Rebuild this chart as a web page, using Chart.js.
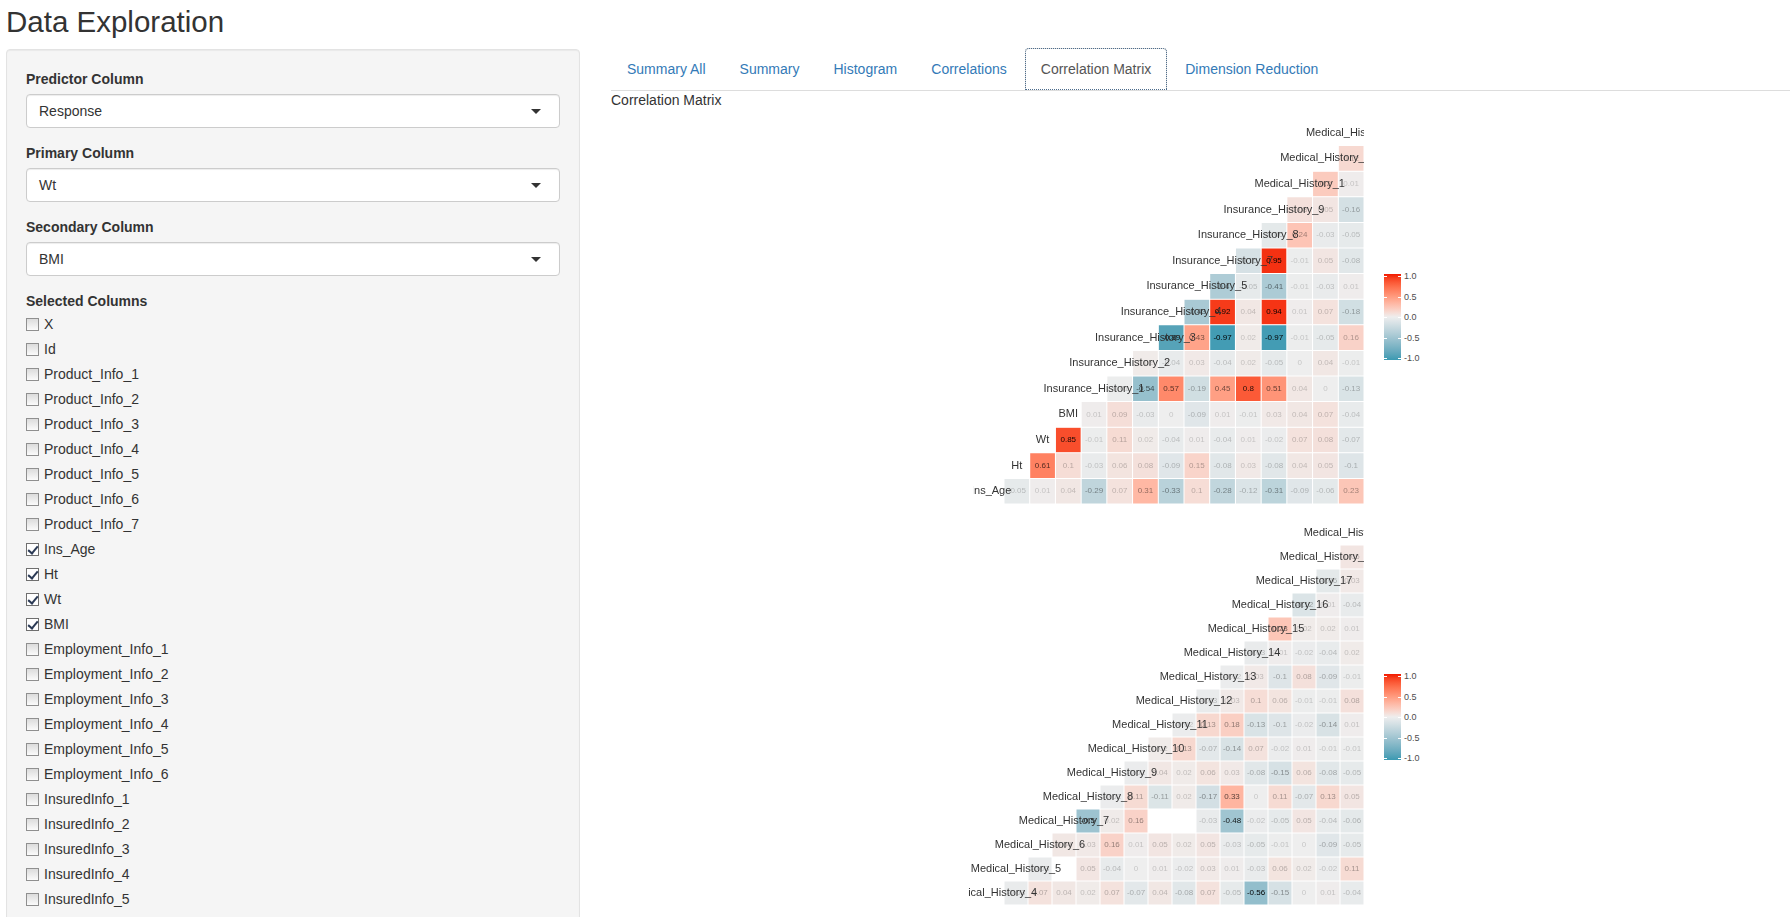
<!DOCTYPE html>
<html>
<head>
<meta charset="utf-8">
<title>Data Exploration</title>
<script src="https://cdn.jsdelivr.net/npm/chart.js@4.4.1/dist/chart.umd.min.js"></script>
<style>
  * { box-sizing: border-box; }
  html, body { margin: 0; padding: 0; }
  body { width: 1790px; height: 917px; overflow: hidden; position: relative; background: #fff; color: #333;
         font-family: "Liberation Sans", Arial, Helvetica, sans-serif; font-size: 14px; line-height: 20px; }
  h2 { position: absolute; left: 6px; top: 5px; margin: 0; font-size: 29.5px; line-height: 33px; font-weight: 500; }
  .well { position: absolute; left: 6px; top: 49px; width: 574px; height: 1000px; padding: 19px;
          background: #f5f5f5; border: 1px solid #e3e3e3; border-radius: 4px; box-shadow: inset 0 1px 1px rgba(0,0,0,.05); }
  .form-group { margin-bottom: 15px; }
  .control-label { display: block; font-weight: bold; margin-bottom: 5px; }
  .sel { position: relative; height: 34px; padding: 6px 12px; background: #fff; border: 1px solid #ccc; border-radius: 4px;
         box-shadow: inset 0 1px 1px rgba(0,0,0,.075); }
  .sel::after { content: ""; position: absolute; right: 18px; top: 14px; border-style: solid; border-width: 5px 5px 0 5px;
                border-color: #333 transparent transparent transparent; }
  .opts { margin-top: -4px; }
  .cb { height: 25px; line-height: 25px; padding-left: 18px; position: relative; }
  .cb .box { position: absolute; left: 0; top: 6px; width: 13px; height: 13px; border: 1px solid #8f8f8f;
             background: linear-gradient(#dcdcdc, #fbfbfb); }
  .cb .box.on { background: #fff; border-color: #6f6f6f; }
  .cb .box.on::after { content: ""; position: absolute; left: 3px; top: 0; width: 4px; height: 8px;
                       border: solid #2b3a55; border-width: 0 2px 2px 0; transform: rotate(40deg); }
  .tabs { position: absolute; left: 611px; top: 48px; right: 0; height: 43px; border-bottom: 1px solid #ddd; }
  .tabs a { float: left; margin-right: 2px; padding: 10px 15px; line-height: 20px; color: #337ab7; text-decoration: none;
            border: 1px solid transparent; border-radius: 4px 4px 0 0; }
  .tabs a.active { color: #555; background: #fff; border-color: #ddd #ddd transparent; outline: 1px dotted #4d6d8d; outline-offset: -1px; }
  .caption { position: absolute; left: 611px; top: 90px; }
  .mat { position: absolute; }
  #topWrap { left: 973px; top: 120px; width: 391px; height: 384px; }
  #botWrap { left: 968px; top: 521px; width: 396px; height: 384px; }
  .legend { position: absolute; left: 1384px; width: 17px; height: 86px; }
  .legend .bar { position: absolute; left: 0; top: 0; width: 17px; height: 86px; }
  .legend .tk { position: absolute; width: 3px; height: 1px; background: #fff; }
  .legend .lab { position: absolute; left: 20px; font-size: 9px; line-height: 10px; color: #4d4d4d; white-space: nowrap; }
</style>
</head>
<body>
<h2>Data Exploration</h2>

<div class="well">
  <div class="form-group">
    <label class="control-label">Predictor Column</label>
    <div class="sel">Response</div>
  </div>
  <div class="form-group">
    <label class="control-label">Primary Column</label>
    <div class="sel">Wt</div>
  </div>
  <div class="form-group">
    <label class="control-label">Secondary Column</label>
    <div class="sel">BMI</div>
  </div>
  <div class="form-group">
    <label class="control-label">Selected Columns</label>
    <div class="opts" id="opts"></div>
  </div>
</div>

<div class="tabs">
  <a>Summary All</a>
  <a>Summary</a>
  <a>Histogram</a>
  <a>Correlations</a>
  <a class="active">Correlation Matrix</a>
  <a>Dimension Reduction</a>
</div>
<div class="caption">Correlation Matrix</div>

<div class="mat" id="topWrap"><canvas id="topChart"></canvas></div>
<div class="legend" id="topLegend" style="top:274px"><div class="bar"></div></div>

<div class="mat" id="botWrap"><canvas id="botChart"></canvas></div>
<div class="legend" id="botLegend" style="top:674px"><div class="bar"></div></div>

<script>
// sidebar column list
const columnNames = ['X', 'Id', 'Product_Info_1', 'Product_Info_2', 'Product_Info_3', 'Product_Info_4', 'Product_Info_5',
  'Product_Info_6', 'Product_Info_7', 'Ins_Age', 'Ht', 'Wt', 'BMI', 'Employment_Info_1', 'Employment_Info_2',
  'Employment_Info_3', 'Employment_Info_4', 'Employment_Info_5', 'Employment_Info_6', 'InsuredInfo_1', 'InsuredInfo_2',
  'InsuredInfo_3', 'InsuredInfo_4', 'InsuredInfo_5'];
const checkedColumns = ['Ins_Age', 'Ht', 'Wt', 'BMI'];

// first matrix: variables top to bottom, each row = correlations left to right
const topVars = ['Medical_History_3', 'Medical_History_2', 'Medical_History_1', 'Insurance_History_9',
  'Insurance_History_8', 'Insurance_History_7', 'Insurance_History_5', 'Insurance_History_4', 'Insurance_History_3',
  'Insurance_History_2', 'Insurance_History_1', 'BMI', 'Wt', 'Ht', 'Ins_Age'];
const topRows = [
  [],
  [0.12],
  [0.2, 0.01],
  [0.08, 0.05, -0.16],
  [-0.06, 0.24, -0.03, -0.05],
  [-0.15, 0.95, -0.01, 0.05, -0.08],
  [-0.4, -0.05, -0.41, -0.01, -0.03, 0.01],
  [-0.43, 0.92, 0.04, 0.94, 0.01, 0.07, -0.18],
  [-0.89, 0.43, -0.97, 0.02, -0.97, -0.01, -0.05, 0.16],
  [0.02, -0.04, 0.03, -0.04, 0.02, -0.05, 0, 0.04, -0.01],
  [-0.01, -0.54, 0.57, -0.19, 0.45, 0.8, 0.51, 0.04, 0, -0.13],
  [0.01, 0.09, -0.03, 0, -0.09, 0.01, -0.01, 0.03, 0.04, 0.07, -0.04],
  [0.85, -0.01, 0.11, 0.02, -0.04, 0.01, -0.04, 0.01, -0.02, 0.07, 0.08, -0.07],
  [0.61, 0.1, -0.03, 0.06, 0.08, -0.09, 0.15, -0.08, 0.03, -0.08, 0.04, 0.05, -0.1],
  [-0.05, 0.01, 0.04, -0.29, 0.07, 0.31, -0.33, 0.1, -0.28, -0.12, -0.31, -0.09, -0.06, 0.23]
];

// second matrix
const botVars = ['Medical_History_19', 'Medical_History_18', 'Medical_History_17', 'Medical_History_16',
  'Medical_History_15', 'Medical_History_14', 'Medical_History_13', 'Medical_History_12', 'Medical_History_11',
  'Medical_History_10', 'Medical_History_9', 'Medical_History_8', 'Medical_History_7', 'Medical_History_6',
  'Medical_History_5', 'Medical_History_4'];
const botRows = [
  [],
  [0.05],
  [-0.06, 0.03],
  [-0.12, 0.01, -0.04],
  [0.23, 0.02, 0.02, 0.01],
  [-0.03, 0.01, -0.02, -0.04, 0.02],
  [-0.02, 0.03, -0.1, 0.08, -0.09, -0.01],
  [-0.03, 0.03, 0.1, 0.06, -0.01, -0.01, 0.08],
  [-0.02, 0.13, 0.18, -0.13, -0.1, -0.02, -0.14, 0.01],
  [0.02, 0.13, -0.07, -0.14, 0.07, -0.02, 0.01, -0.01, -0.01],
  [-0.02, 0.04, 0.02, 0.06, 0.03, -0.08, -0.15, 0.06, -0.08, -0.05],
  [-0.02, 0.11, -0.11, 0.02, -0.17, 0.33, 0, 0.11, -0.07, 0.13, 0.05],
  [-0.5, 0.02, 0.16, null, null, -0.03, -0.48, -0.02, -0.05, 0.05, -0.04, -0.06],
  [0.04, 0.03, 0.16, 0.01, 0.05, 0.02, 0.05, -0.03, -0.05, -0.01, 0, -0.09, -0.05],
  [-0.03, null, 0.05, -0.04, 0, 0.01, -0.02, 0.03, 0.01, -0.03, 0.06, 0.02, -0.02, 0.11],
  [-0.03, 0.07, 0.04, 0.02, 0.07, -0.07, 0.04, -0.08, 0.07, -0.05, -0.56, -0.15, 0, 0.01, -0.04]
];

const legendTicks = [1, 0.5, 0, -0.5, -1];

// sidebar checkboxes
const opts = document.getElementById('opts');
columnNames.forEach(function (name) {
  const d = document.createElement('div');
  d.className = 'cb';
  d.innerHTML = '<span class="box' + (checkedColumns.includes(name) ? ' on' : '') + '"></span>' + name;
  opts.appendChild(d);
});

// colour scale (low / mid / high blended in Lab like ggplot)
const LOW = '#3B9AB2', MID = '#EEEEEE', HIGH = '#F21A00';
function toLin(c) { c /= 255; return c <= 0.04045 ? c / 12.92 : Math.pow((c + 0.055) / 1.055, 2.4); }
function fromLin(c) {
  c = c <= 0.0031308 ? 12.92 * c : 1.055 * Math.pow(c, 1 / 2.4) - 0.055;
  return Math.round(Math.max(0, Math.min(1, c)) * 255);
}
function hexToLab(hex) {
  const r = toLin(parseInt(hex.slice(1, 3), 16)), g = toLin(parseInt(hex.slice(3, 5), 16)), b = toLin(parseInt(hex.slice(5, 7), 16));
  const X = (0.4124 * r + 0.3576 * g + 0.1805 * b) / 0.95047;
  const Y = 0.2126 * r + 0.7152 * g + 0.0722 * b;
  const Z = (0.0193 * r + 0.1192 * g + 0.9505 * b) / 1.08883;
  const f = t => t > 0.008856 ? Math.cbrt(t) : 7.787 * t + 16 / 116;
  const fx = f(X), fy = f(Y), fz = f(Z);
  return [116 * fy - 16, 500 * (fx - fy), 200 * (fy - fz)];
}
function labToRgb(lab) {
  const fy = (lab[0] + 16) / 116, fx = fy + lab[1] / 500, fz = fy - lab[2] / 200;
  const fi = t => t * t * t > 0.008856 ? t * t * t : (t - 16 / 116) / 7.787;
  const X = fi(fx) * 0.95047, Y = fi(fy), Z = fi(fz) * 1.08883;
  const r = 3.2406 * X - 1.5372 * Y - 0.4986 * Z;
  const g = -0.9689 * X + 1.8758 * Y + 0.0415 * Z;
  const b = 0.0557 * X - 0.2040 * Y + 1.0570 * Z;
  return 'rgb(' + fromLin(r) + ',' + fromLin(g) + ',' + fromLin(b) + ')';
}
const labLow = hexToLab(LOW), labMid = hexToLab(MID), labHigh = hexToLab(HIGH);
function corrColor(v) {
  const t = Math.min(1, Math.abs(v));
  const end = v < 0 ? labLow : labHigh;
  return labToRgb([0, 1, 2].map(i => labMid[i] + (end[i] - labMid[i]) * t));
}

// text on top of the tiles: coefficients, then the variable names on the diagonal
function textPlugin(id, vars, rows) {
  const ncol = vars.length - 1;
  let maxAbs = 0;
  rows.forEach(r => r.forEach(v => { if (v !== null) maxAbs = Math.max(maxAbs, Math.abs(v)); }));
  return {
    id: id,
    afterDatasetsDraw(chart) {
      const ctx = chart.ctx, x = chart.scales.x, y = chart.scales.y;
      ctx.save();
      ctx.textAlign = 'center';
      ctx.textBaseline = 'middle';
      ctx.font = '8px "Liberation Sans", Arial, sans-serif';
      rows.forEach(function (vals, r) {
        vals.forEach(function (v, k) {
          if (v === null) return;
          const c = ncol - r + k;
          ctx.fillStyle = 'rgba(0,0,0,' + (0.18 + 0.82 * Math.abs(v) / maxAbs).toFixed(3) + ')';
          ctx.fillText(String(v), x.getPixelForValue(c), y.getPixelForValue(r + 0.5));
        });
      });
      ctx.font = '11px "Liberation Sans", Arial, sans-serif';
      ctx.fillStyle = '#333';
      vars.forEach(function (name, r) {
        ctx.fillText(name, x.getPixelForValue(ncol - 1 - r), y.getPixelForValue(r + 0.5));
      });
      ctx.restore();
    }
  };
}

function makeMatrix(canvasId, vars, rows, padLeft) {
  const ncol = vars.length - 1;
  const labels = [];
  for (let c = 0; c < ncol; c++) labels.push(vars[ncol - 1 - c]);
  const datasets = rows.map(function (vals, r) {
    const start = ncol - r;
    const data = [], colors = [];
    for (let c = 0; c < ncol; c++) {
      const v = c >= start ? vals[c - start] : null;
      const empty = v === null || v === undefined;
      data.push(empty ? null : [r, r + 1]);
      colors.push(empty ? 'rgba(0,0,0,0)' : corrColor(v));
    }
    return {
      label: vars[r], data: data, backgroundColor: colors,
      borderColor: '#ffffff', borderWidth: 0.5, borderSkipped: false, inflateAmount: 0,
      grouped: false, barPercentage: 1, categoryPercentage: 1
    };
  });
  return new Chart(document.getElementById(canvasId), {
    type: 'bar',
    data: { labels: labels, datasets: datasets },
    options: {
      responsive: true,
      maintainAspectRatio: false,
      animation: false,
      events: [],
      layout: { padding: { left: padLeft, right: 0, top: 0, bottom: 0 } },
      scales: {
        x: { type: 'category', display: false, offset: true },
        y: { type: 'linear', display: false, min: 0, max: vars.length, reverse: true }
      },
      plugins: { legend: { display: false }, tooltip: { enabled: false } }
    },
    plugins: [textPlugin(canvasId + 'Text', vars, rows)]
  });
}

function makeLegend(id) {
  const el = document.getElementById(id);
  const stops = [];
  for (let i = 0; i <= 20; i++) stops.push(corrColor(1 - i / 10) + ' ' + (i * 5) + '%');
  el.querySelector('.bar').style.background = 'linear-gradient(to bottom, ' + stops.join(',') + ')';
  legendTicks.forEach(function (v) {
    const ty = 2 + (1 - v) / 2 * 82;
    ['0px', '14px'].forEach(function (left) {
      const t = document.createElement('div');
      t.className = 'tk';
      t.style.left = left;
      t.style.top = ty + 'px';
      el.appendChild(t);
    });
    const lab = document.createElement('div');
    lab.className = 'lab';
    lab.style.top = (ty - 5) + 'px';
    lab.textContent = v.toFixed(1);
    el.appendChild(lab);
  });
}

makeMatrix('topChart', topVars, topRows, 31);
makeMatrix('botChart', botVars, botRows, 36);
makeLegend('topLegend');
makeLegend('botLegend');
</script>
</body>
</html>
